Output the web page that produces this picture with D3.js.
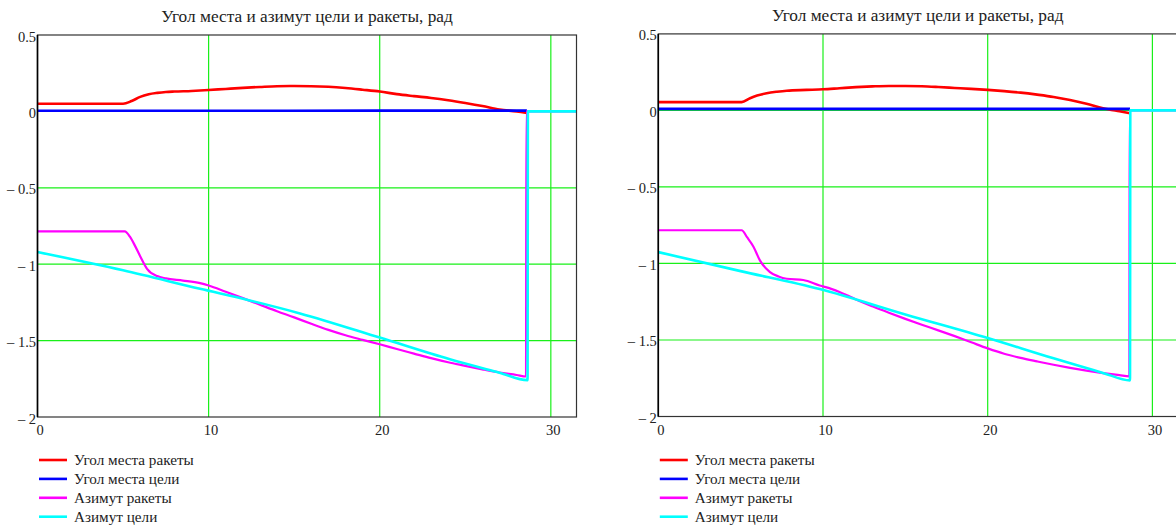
<!DOCTYPE html>
<html>
<head>
<meta charset="utf-8">
<script src="https://cdn.jsdelivr.net/npm/d3@7"></script>
<style>
  body { margin: 0; background: #fff; }
  svg { display: block; }
</style>
</head>
<body>
<div id="chart"></div>
<script>
const title = "Угол места и азимут цели и ракеты, рад";
const legendLabels = ["Угол места ракеты", "Угол места цели", "Азимут ракеты", "Азимут цели"];
const seriesColors = ["#ff0000", "#0000ff", "#ff00ff", "#00ffff"];
const xTicks = [0, 10, 20, 30];
const yTicks = [0.5, 0, -0.5, -1, -1.5, -2];

// left chart: [t, value]
const rocketElevL = [[0,0.05],[5.0,0.05],[5.5,0.068],[6,0.095],[6.5,0.112],[7,0.121],[7.5,0.127],[8,0.13],[9,0.134],[10,0.14],[11,0.147],[12,0.154],[13,0.16],[14,0.165],[15,0.166],[16,0.165],[17,0.161],[18,0.153],[19,0.142],[20,0.13],[21,0.113],[22,0.1],[23,0.088],[24,0.073],[25,0.055],[26,0.035],[27,0.012],[28,0.0],[28.6,-0.01]];
const targetElevL = [[0,0.004],[10,0.004],[20,0.005],[28.6,0.005]];
const rocketAzL = [[0,-0.785],[5.1,-0.785],[5.4,-0.82],[5.7,-0.88],[6.0,-0.948],[6.4,-1.03],[7.0,-1.078],[7.5,-1.093],[8.5,-1.107],[9.5,-1.124],[10,-1.139],[11,-1.18],[12,-1.222],[13,-1.265],[14,-1.308],[15,-1.348],[16,-1.39],[17,-1.43],[18,-1.465],[19,-1.495],[20,-1.524],[21,-1.555],[22,-1.585],[23,-1.615],[24,-1.642],[25,-1.665],[26,-1.688],[27,-1.709],[28,-1.725],[28.55,-1.735],[28.57,0],[31.6,0]];
const targetAzL = [[0,-0.92],[5,-1.04],[9.5,-1.161],[12.4,-1.237],[15.34,-1.322],[20,-1.48],[24.1,-1.622],[27,-1.71],[28.64,-1.759],[28.66,0],[31.6,0]];

// right chart: [t, value]
const rocketElevR = [[0,0.054],[5.06,0.054],[5.57,0.08],[6,0.097],[6.58,0.112],[7.2,0.122],[7.8,0.129],[9,0.134],[10,0.138],[11,0.145],[12,0.152],[13,0.157],[14,0.16],[15,0.16],[16,0.158],[17,0.153],[18,0.147],[19,0.141],[20,0.134],[21,0.126],[22,0.116],[23,0.103],[24,0.088],[25,0.068],[26,0.043],[27,0.014],[28,-0.006],[28.64,-0.018]];
const targetElevR = [[0,0.01],[10,0.01],[20,0.01],[28.64,0.01]];
const rocketAzR = [[0,-0.783],[5.06,-0.783],[5.4,-0.83],[5.77,-0.889],[6.17,-0.98],[6.78,-1.056],[7.3,-1.085],[7.8,-1.1],[8.8,-1.108],[9.8,-1.144],[10.5,-1.166],[11,-1.186],[11.5,-1.21],[12,-1.235],[13,-1.28],[14,-1.322],[15,-1.362],[16,-1.4],[17,-1.437],[18,-1.475],[19,-1.515],[20,-1.555],[21,-1.59],[22,-1.617],[23,-1.64],[24,-1.662],[25,-1.682],[26,-1.7],[27,-1.716],[28,-1.73],[28.6,-1.738],[28.62,0],[31.6,0]];
const targetAzR = [[0,-0.926],[5,-1.05],[9.8,-1.167],[15,-1.333],[20,-1.487],[24,-1.62],[27,-1.715],[28.64,-1.764],[28.66,0],[31.6,0]];

const xDomain = [0, 31.5];
const yDomain = [-2, 0.5];

const svg = d3
  .select("#chart")
  .append("svg")
  .attr("width", 1176)
  .attr("height", 531);

const fmt = (v) => (v < 0 ? "\u2013 " + Math.abs(v) : String(v));
const serif = "Liberation Serif";

function drawPanel(id, xRange, yRange, series) {
  const x = d3.scaleLinear().domain(xDomain).range(xRange);
  const y = d3.scaleLinear().domain(yDomain).range(yRange);
  const g = svg.append("g");

  g.append("clipPath")
    .attr("id", "clip" + id)
    .append("rect")
    .attr("x", xRange[0])
    .attr("y", yRange[1])
    .attr("width", xRange[1] - xRange[0])
    .attr("height", yRange[0] - yRange[1]);

  // grid
  g.selectAll(".gx")
    .data(xTicks.filter((d) => d > 0))
    .enter()
    .append("line")
    .attr("x1", (d) => x(d))
    .attr("x2", (d) => x(d))
    .attr("y1", yRange[0])
    .attr("y2", yRange[1])
    .style("stroke", "#19f019")
    .style("stroke-width", 1.2);

  g.selectAll(".gy")
    .data(yTicks.filter((d) => d > -2 && d < 0.5))
    .enter()
    .append("line")
    .attr("x1", xRange[0])
    .attr("x2", xRange[1])
    .attr("y1", (d) => y(d))
    .attr("y2", (d) => y(d))
    .style("stroke", "#19f019")
    .style("stroke-width", 1.2);

  const line = d3
    .line()
    .x((d) => x(d[0]))
    .y((d) => y(d[1]))
    .curve(d3.curveMonotoneX);

  const widths = [2.6, 2.6, 2.2, 2.6];
  g.append("g")
    .attr("clip-path", "url(#clip" + id + ")")
    .selectAll("path")
    .data(series)
    .enter()
    .append("path")
    .attr("d", line)
    .style("fill", "none")
    .style("stroke", (d, i) => seriesColors[i])
    .style("stroke-width", (d, i) => widths[i]);

  // frame
  g.append("rect")
    .attr("x", xRange[0])
    .attr("y", yRange[1])
    .attr("width", xRange[1] - xRange[0])
    .attr("height", yRange[0] - yRange[1])
    .style("fill", "none")
    .style("stroke", "#333")
    .style("stroke-width", 1.2);

  g.append("line")
    .attr("x1", xRange[0])
    .attr("x2", xRange[0])
    .attr("y1", yRange[0])
    .attr("y2", yRange[1])
    .style("stroke", "#000")
    .style("stroke-width", 1.6);

  // tick labels
  g.selectAll(".yl")
    .data(yTicks)
    .enter()
    .append("text")
    .attr("x", xRange[0] - 1.5)
    .attr("y", (d) => y(d) + 6.5)
    .attr("text-anchor", "end")
    .attr("font-family", serif)
    .attr("font-size", 14.5)
    .attr("fill", "#222")
    .text(fmt);

  g.selectAll(".xl")
    .data(xTicks)
    .enter()
    .append("text")
    .attr("x", (d) => x(d) + 2.5)
    .attr("y", yRange[0] + 18)
    .attr("text-anchor", "middle")
    .attr("font-family", serif)
    .attr("font-size", 14.5)
    .attr("fill", "#222")
    .text((d) => d);

  g.append("text")
    .attr("x", (xRange[0] + xRange[1]) / 2)
    .attr("y", yRange[1] - 13)
    .attr("text-anchor", "middle")
    .attr("font-family", serif)
    .attr("font-size", 17.3)
    .attr("fill", "#222")
    .text(title);

  // legend
  const leg = g
    .selectAll(".leg")
    .data(legendLabels)
    .enter()
    .append("g")
    .attr("transform", (d, i) => `translate(${xRange[0] + 1.5},${460 + i * 18.9})`);

  leg.append("line")
    .attr("x1", 0)
    .attr("x2", 28)
    .style("stroke", (d, i) => seriesColors[i])
    .style("stroke-width", 2.6);

  leg.append("text")
    .attr("x", 35)
    .attr("y", 5)
    .attr("font-family", serif)
    .attr("font-size", 15.2)
    .attr("fill", "#222")
    .text((d) => d);
}

drawPanel("L", [37.5, 576.5], [417, 35], [rocketElevL, targetElevL, rocketAzL, targetAzL]);
drawPanel("R", [658.3, 1177.1], [416.5, 33.9], [rocketElevR, targetElevR, rocketAzR, targetAzR]);
</script>
</body>
</html>
